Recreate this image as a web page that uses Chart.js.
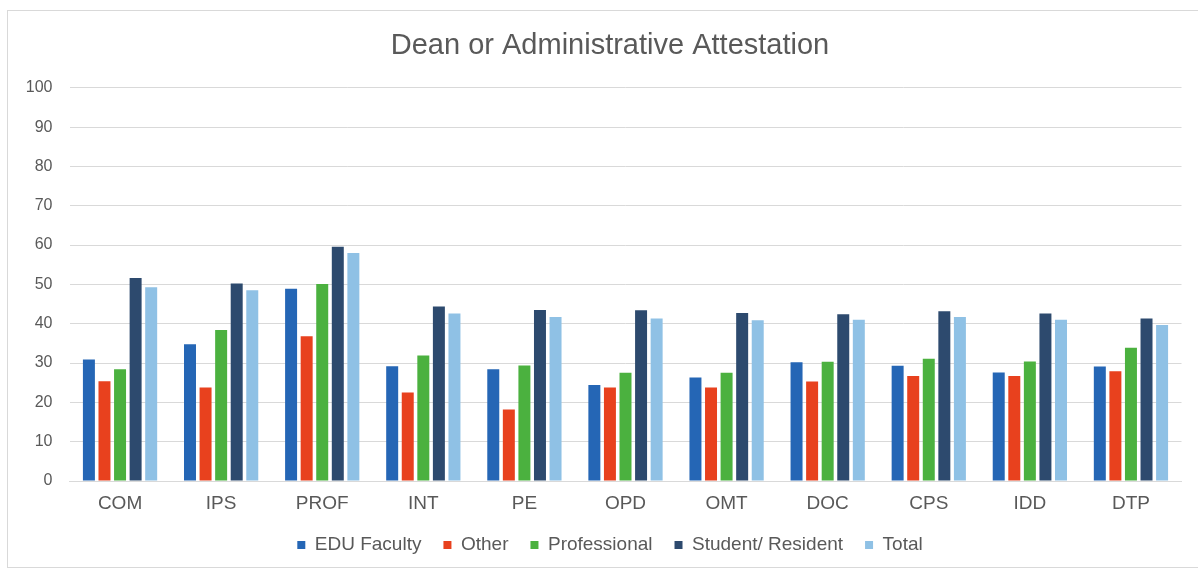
<!DOCTYPE html>
<html>
<head>
<meta charset="utf-8">
<script src="https://cdn.jsdelivr.net/npm/chart.js@4.4.0/dist/chart.umd.min.js"></script>
<style>
  html, body { margin: 0; padding: 0; background: #ffffff; overflow: hidden; width: 1198px; height: 570px; }
  #frame { position: absolute; left: 7px; top: 10px; width: 1210px; height: 556px; border: 1px solid #d9d9d9; background: #fff; }
  #wrap { position: absolute; left: 0; top: 0; width: 1204px; height: 556px; }
</style>
</head>
<body>
<div id="frame"><div id="wrap"><canvas id="c"></canvas></div></div>
<script>
const categories = ["COM", "IPS", "PROF", "INT", "PE", "OPD", "OMT", "DOC", "CPS", "IDD", "DTP"];
const eduFaculty   = [30.9, 34.8, 48.9, 29.2, 28.4, 24.4, 26.3, 30.2, 29.3, 27.6, 29.1];
const other        = [25.4, 23.8, 36.8, 22.5, 18.2, 23.8, 23.8, 25.3, 26.7, 26.7, 27.9];
const professional = [28.4, 38.4, 50.1, 31.9, 29.4, 27.5, 27.5, 30.3, 31.1, 30.4, 33.9];
const student      = [51.6, 50.2, 59.6, 44.4, 43.5, 43.4, 42.7, 42.4, 43.2, 42.6, 41.3];
const total        = [49.3, 48.5, 58.0, 42.6, 41.7, 41.3, 40.9, 41.0, 41.7, 41.0, 39.7];
const yTicks = [0, 10, 20, 30, 40, 50, 60, 70, 80, 90, 100];

const seriesNames = ["EDU Faculty", "Other", "Professional", "Student/ Resident", "Total"];
const seriesData = [eduFaculty, other, professional, student, total];
const seriesColors = ["#2566b5", "#e8411e", "#4bb13f", "#2d4a6e", "#8fc1e5"];

const FONT = "'Liberation Sans', Arial, sans-serif";
const TXT = "#595959";

new Chart(document.getElementById("c"), {
  type: "bar",
  data: {
    labels: categories,
    datasets: seriesNames.map((n, i) => ({
      label: n,
      data: seriesData[i],
      backgroundColor: seriesColors[i],
      borderWidth: 0,
      categoryPercentage: 0.77,
      barPercentage: 0.77,
      yAxisID: "y"
    }))
  },
  options: {
    responsive: true,
    maintainAspectRatio: false,
    animation: false,
    layout: { padding: { top: 8, right: 0, bottom: 2.5, left: 0 } },
    plugins: {
      title: {
        display: true,
        text: "Dean or Administrative Attestation",
        color: TXT,
        font: { family: FONT, size: 29, weight: "normal" },
        padding: { top: 10, bottom: 24 }
      },
      legend: {
        position: "bottom",
        labels: {
          color: TXT,
          font: { family: FONT, size: 19 },
          boxWidth: 8,
          boxHeight: 8,
          padding: 22
        }
      },
      tooltip: { enabled: false }
    },
    scales: {
      x: {
        grid: { display: false, drawTicks: false },
        border: { display: true, color: "#d9d9d9" },
        ticks: { color: TXT, font: { family: FONT, size: 19 }, padding: 11.5 },
        afterFit: (s) => { s.height = 32.5; }
      },
      y: {
        position: "left",
        min: 0, max: 100,
        afterBuildTicks: (s) => { s.ticks = yTicks.map(v => ({ value: v })); },
        grid: { color: "#d9d9d9", drawTicks: false },
        border: { display: false },
        ticks: { color: TXT, font: { family: FONT, size: 16 }, padding: 17 },
        afterFit: (s) => { s.width = 61.5; }
      },
      y2: {
        position: "right",
        min: 0, max: 100,
        grid: { display: false, drawTicks: false },
        border: { display: false },
        ticks: { display: false },
        afterFit: (s) => { s.width = 30.5; }
      }
    }
  }
});
</script>
</body>
</html>
